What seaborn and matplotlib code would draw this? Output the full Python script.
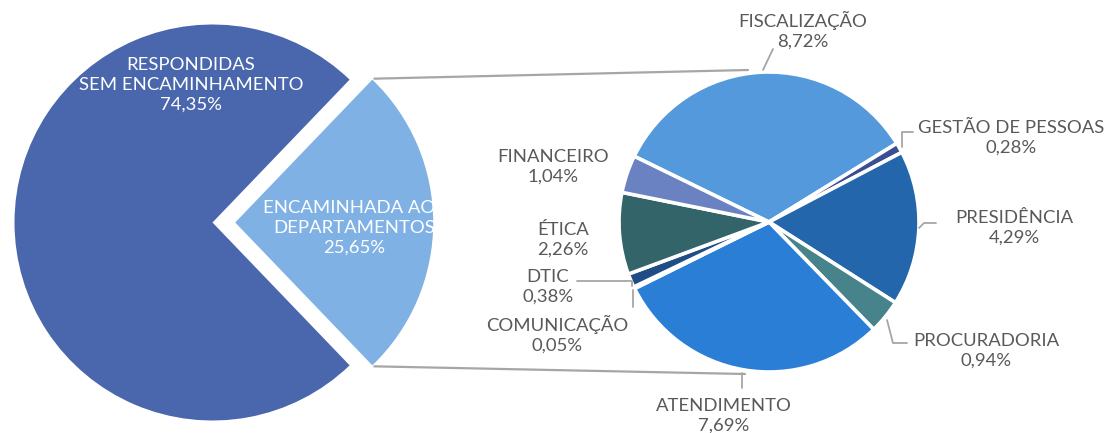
import matplotlib
matplotlib.use("Agg")
import matplotlib.pyplot as plt
import seaborn as sns
import numpy as np

# ---- data ----
main_labels = ["ENCAMINHADA AOS\nDEPARTAMENTOS", "RESPONDIDAS\nSEM ENCAMINHAMENTO"]
main_values = [25.65, 74.35]
main_colors = ["#7FB1E4", "#4A67AD"]

sub_labels = ["FISCALIZAÇÃO", "GESTÃO DE PESSOAS", "PRESIDÊNCIA", "PROCURADORIA",
              "ATENDIMENTO", "COMUNICAÇÃO", "DTIC", "ÉTICA", "FINANCEIRO"]
sub_values = [8.72, 0.28, 4.29, 0.94, 7.69, 0.05, 0.38, 2.26, 1.04]
sub_colors = ["#5499DC", "#3A4E94", "#2466AC", "#47838A", "#2B7ED6",
              "#5B9BD5", "#1F4E86", "#336469", "#6B82C2"]

def fmt(v):
    return f"{v:.2f}".replace(".", ",") + "%"

sns.set_theme(style="white")
plt.rcParams['font.family'] = ['Lato', 'DejaVu Sans']

W, H = 1106, 433
fig = plt.figure(figsize=(W / 100, H / 100), dpi=100)
ax = fig.add_axes([0, 0, 1, 1])

def Y(y):
    return H - y

# main pie
mc = (212.5, Y(222.5))
mr = 198
ang_half = main_values[0] / sum(main_values) * 360 / 2
explode_px = 22.7
wedges_main, _ = ax.pie(main_values, colors=main_colors, startangle=-ang_half,
                        center=mc, radius=mr, explode=[explode_px, 0],
                        wedgeprops=dict(linewidth=0), frame=True)

# secondary pie
sc = (769, Y(222))
sr = 150
wedges_sub, _ = ax.pie(sub_values, colors=sub_colors, startangle=154, counterclock=False,
                       center=sc, radius=sr,
                       wedgeprops=dict(edgecolor="white", linewidth=2.6), frame=True)
ax.set_xlim(0, W)
ax.set_ylim(0, H)
ax.set_aspect("equal")
ax.axis("off")

# connector lines between pies
cx = mc[0] + explode_px
a = np.deg2rad(ang_half)
top_corner = (cx + mr * np.cos(a), mc[1] + mr * np.sin(a))
bot_corner = (cx + mr * np.cos(a), mc[1] - mr * np.sin(a))
line_c = "#A6A6A6"
ax.plot([top_corner[0] + 2, 748], [top_corner[1] + 1, Y(70)], color=line_c, lw=1.6, zorder=0)
ax.plot([bot_corner[0] + 2, 745], [bot_corner[1] - 1, Y(374)], color=line_c, lw=1.6, zorder=0)

fs = 13.3
ls = 1.3
tc = "#595959"

# main labels
ax.text(191, Y(85), main_labels[1] + "\n" + fmt(main_values[1]), ha="center", va="center",
        color="white", fontsize=fs, linespacing=ls)
t = ax.text(354, Y(228), main_labels[0] + "\n" + fmt(main_values[0]), ha="center", va="center",
            color="white", fontsize=fs, linespacing=ls)
t.set_clip_path(wedges_main[0])

# secondary labels positions (pixel coords of label centers)
label_pos = {
    "FISCALIZAÇÃO": (803, 30),
    "GESTÃO DE PESSOAS": (1011, 138),
    "PRESIDÊNCIA": (1014, 228),
    "PROCURADORIA": (986, 351),
    "ATENDIMENTO": (724, 416),
    "COMUNICAÇÃO": (557, 334),
    "DTIC": (548, 287),
    "ÉTICA": (563, 240),
    "FINANCEIRO": (553, 167),
}
for lab, val in zip(sub_labels, sub_values):
    x, y = label_pos[lab]
    ax.text(x, Y(y), lab + "\n" + fmt(val), ha="center", va="center",
            color=tc, fontsize=fs, linespacing=ls)

# leader lines (pixel coords)
leaders = [
    [(763, 70), (773, 49)],
    [(902, 147), (902, 132), (913, 132)],
    [(919, 228), (924, 223), (936, 223)],
    [(887, 320), (893, 343), (907, 343)],
    [(742, 373), (742, 388)],
    [(577, 281), (632, 281), (632, 286)],
    [(633, 290), (633, 307)],
]
for pts in leaders:
    xs = [p[0] for p in pts]
    ys = [Y(p[1]) for p in pts]
    ax.plot(xs, ys, color=line_c, lw=1.3)

fig.savefig("out.png", dpi=100, facecolor="white")
